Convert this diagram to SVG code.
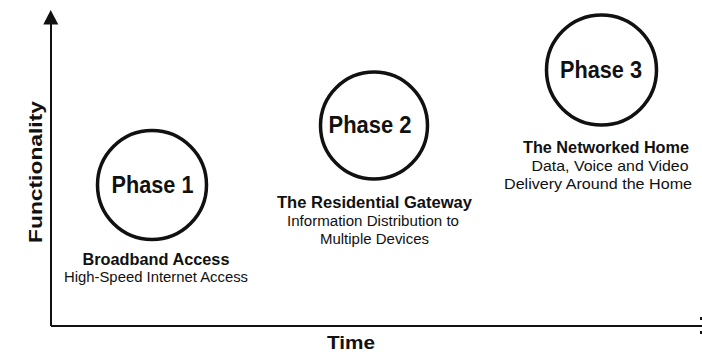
<svg xmlns="http://www.w3.org/2000/svg" width="702" height="355" viewBox="0 0 702 355">
<style>
.circ{fill:none;stroke:#111;stroke-width:3.5}
.ph{font-family:"Liberation Sans",Arial,sans-serif;font-weight:bold;font-size:24px;fill:#111;text-anchor:middle}
.t{font-family:"Liberation Sans",Arial,sans-serif;font-weight:bold;font-size:16.5px;fill:#111;text-anchor:middle}
.s{font-family:"Liberation Sans",Arial,sans-serif;font-size:15.5px;fill:#111;text-anchor:middle}
.ax{font-family:"Liberation Sans",Arial,sans-serif;font-weight:bold;font-size:18px;fill:#111;text-anchor:middle}
.axis{stroke:#111;stroke-width:2;fill:none}
</style>
<g id="axes">
<path class="axis" d="M51 326 L51 22"/>
<path d="M50.7 10 L58.3 24.5 L43.3 24.5 Z" fill="#111"/>
<path class="axis" d="M51 326 L702 326"/>
<path d="M700 317 h2 v3 h-2 Z M700 331 h2 v3 h-2 Z" fill="#111"/>
<text class="ax" x="351" y="348.5" textLength="48" lengthAdjust="spacingAndGlyphs">Time</text>
<text class="ax" transform="translate(41.5,172) rotate(-90)" textLength="142" lengthAdjust="spacingAndGlyphs">Functionality</text>
</g>
<g id="phase1">
<circle class="circ" cx="152" cy="185" r="54.5"/>
<text class="ph" x="152.5" y="192.7" textLength="82" lengthAdjust="spacingAndGlyphs">Phase 1</text>
<text class="t" x="156" y="265" textLength="147" lengthAdjust="spacingAndGlyphs">Broadband Access</text>
<text class="s" x="156" y="282" textLength="184" lengthAdjust="spacingAndGlyphs">High-Speed Internet Access</text>
</g>
<g id="phase2">
<circle class="circ" cx="374" cy="125.5" r="53.5"/>
<text class="ph" x="370" y="133.3" textLength="83" lengthAdjust="spacingAndGlyphs">Phase 2</text>
<text class="t" x="374.5" y="208" textLength="195" lengthAdjust="spacingAndGlyphs">The Residential Gateway</text>
<text class="s" x="373" y="225.5" textLength="172" lengthAdjust="spacingAndGlyphs">Information Distribution to</text>
<text class="s" x="374.5" y="244" textLength="109" lengthAdjust="spacingAndGlyphs">Multiple Devices</text>
</g>
<g id="phase3">
<circle class="circ" cx="601.5" cy="70" r="55"/>
<text class="ph" x="601" y="78.3" textLength="82" lengthAdjust="spacingAndGlyphs">Phase 3</text>
<text class="t" x="606" y="153" textLength="166" lengthAdjust="spacingAndGlyphs">The Networked Home</text>
<text class="s" x="610" y="170.5" textLength="157" lengthAdjust="spacingAndGlyphs">Data, Voice and Video</text>
<text class="s" x="598" y="188.5" textLength="188" lengthAdjust="spacingAndGlyphs">Delivery Around the Home</text>
</g>
</svg>
